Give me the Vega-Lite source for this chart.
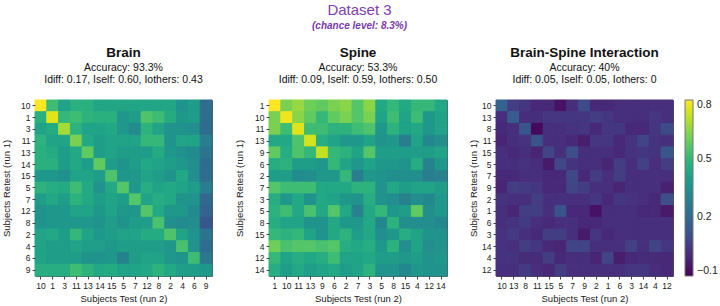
{
  "$schema": "https://vega.github.io/schema/vega-lite/v6.json",
  "background": "white",
  "padding": {"left": 1, "top": 3, "right": 2, "bottom": 0},
  "title": {
    "text": "Dataset 3",
    "subtitle": "(chance level: 8.3%)",
    "color": "#8040b0",
    "subtitleColor": "#7a3aa8",
    "fontSize": 15,
    "fontWeight": "normal",
    "font": "Liberation Sans",
    "subtitleFont": "Liberation Sans",
    "subtitleFontSize": 10,
    "subtitleFontStyle": "italic",
    "subtitleFontWeight": "bold",
    "subtitlePadding": 3,
    "anchor": "middle",
    "offset": 14
  },
  "datasets": {
    "brain": [
      {"retest": "10", "10": 0.80, "1": 0.52, "3": 0.42, "11": 0.47, "13": 0.47, "14": 0.43, "15": 0.43, "5": 0.43, "7": 0.43, "12": 0.43, "8": 0.43, "2": 0.43, "4": 0.36, "6": 0.40, "9": 0.22},
      {"retest": "1", "10": 0.47, "1": 0.76, "3": 0.50, "11": 0.52, "13": 0.48, "14": 0.47, "15": 0.47, "5": 0.38, "7": 0.40, "12": 0.55, "8": 0.52, "2": 0.45, "4": 0.38, "6": 0.40, "9": 0.22},
      {"retest": "3", "10": 0.42, "1": 0.45, "3": 0.68, "11": 0.48, "13": 0.42, "14": 0.42, "15": 0.44, "5": 0.38, "7": 0.33, "12": 0.48, "8": 0.42, "2": 0.36, "4": 0.36, "6": 0.34, "9": 0.22},
      {"retest": "11", "10": 0.48, "1": 0.42, "3": 0.42, "11": 0.62, "13": 0.44, "14": 0.40, "15": 0.42, "5": 0.42, "7": 0.42, "12": 0.50, "8": 0.50, "2": 0.36, "4": 0.42, "6": 0.42, "9": 0.28},
      {"retest": "13", "10": 0.47, "1": 0.45, "3": 0.40, "11": 0.44, "13": 0.58, "14": 0.40, "15": 0.42, "5": 0.40, "7": 0.40, "12": 0.40, "8": 0.45, "2": 0.38, "4": 0.35, "6": 0.33, "9": 0.24},
      {"retest": "14", "10": 0.47, "1": 0.47, "3": 0.40, "11": 0.44, "13": 0.40, "14": 0.58, "15": 0.40, "5": 0.36, "7": 0.40, "12": 0.44, "8": 0.42, "2": 0.40, "4": 0.38, "6": 0.34, "9": 0.22},
      {"retest": "15", "10": 0.38, "1": 0.38, "3": 0.35, "11": 0.42, "13": 0.42, "14": 0.40, "15": 0.55, "5": 0.38, "7": 0.38, "12": 0.42, "8": 0.40, "2": 0.36, "4": 0.44, "6": 0.34, "9": 0.22},
      {"retest": "5", "10": 0.48, "1": 0.46, "3": 0.45, "11": 0.52, "13": 0.44, "14": 0.36, "15": 0.44, "5": 0.56, "7": 0.38, "12": 0.46, "8": 0.42, "2": 0.44, "4": 0.42, "6": 0.40, "9": 0.28},
      {"retest": "7", "10": 0.40, "1": 0.44, "3": 0.40, "11": 0.48, "13": 0.44, "14": 0.40, "15": 0.42, "5": 0.40, "7": 0.56, "12": 0.42, "8": 0.46, "2": 0.44, "4": 0.36, "6": 0.36, "9": 0.20},
      {"retest": "12", "10": 0.36, "1": 0.38, "3": 0.38, "11": 0.42, "13": 0.42, "14": 0.38, "15": 0.42, "5": 0.38, "7": 0.38, "12": 0.56, "8": 0.44, "2": 0.38, "4": 0.38, "6": 0.33, "9": 0.18},
      {"retest": "8", "10": 0.36, "1": 0.38, "3": 0.38, "11": 0.38, "13": 0.38, "14": 0.36, "15": 0.40, "5": 0.36, "7": 0.40, "12": 0.40, "8": 0.54, "2": 0.34, "4": 0.33, "6": 0.34, "9": 0.14},
      {"retest": "2", "10": 0.42, "1": 0.44, "3": 0.40, "11": 0.50, "13": 0.42, "14": 0.38, "15": 0.40, "5": 0.42, "7": 0.42, "12": 0.45, "8": 0.45, "2": 0.55, "4": 0.42, "6": 0.36, "9": 0.24},
      {"retest": "4", "10": 0.42, "1": 0.40, "3": 0.40, "11": 0.42, "13": 0.40, "14": 0.40, "15": 0.38, "5": 0.40, "7": 0.40, "12": 0.40, "8": 0.40, "2": 0.38, "4": 0.54, "6": 0.36, "9": 0.22},
      {"retest": "6", "10": 0.42, "1": 0.40, "3": 0.40, "11": 0.40, "13": 0.36, "14": 0.36, "15": 0.38, "5": 0.30, "7": 0.40, "12": 0.42, "8": 0.42, "2": 0.38, "4": 0.36, "6": 0.52, "9": 0.26},
      {"retest": "9", "10": 0.46, "1": 0.46, "3": 0.46, "11": 0.52, "13": 0.48, "14": 0.44, "15": 0.45, "5": 0.42, "7": 0.42, "12": 0.44, "8": 0.48, "2": 0.44, "4": 0.40, "6": 0.40, "9": 0.38}
    ],
    "spine": [
      {"retest": "1", "1": 0.80, "10": 0.62, "11": 0.66, "13": 0.60, "9": 0.58, "6": 0.62, "2": 0.64, "7": 0.56, "3": 0.64, "5": 0.44, "8": 0.50, "15": 0.44, "4": 0.50, "12": 0.50, "14": 0.44},
      {"retest": "10", "1": 0.62, "10": 0.78, "11": 0.64, "13": 0.58, "9": 0.50, "6": 0.58, "2": 0.62, "7": 0.56, "3": 0.62, "5": 0.42, "8": 0.52, "15": 0.42, "4": 0.52, "12": 0.38, "14": 0.42},
      {"retest": "11", "1": 0.62, "10": 0.52, "11": 0.76, "13": 0.52, "9": 0.52, "6": 0.48, "2": 0.48, "7": 0.52, "3": 0.55, "5": 0.38, "8": 0.48, "15": 0.42, "4": 0.44, "12": 0.38, "14": 0.42},
      {"retest": "13", "1": 0.44, "10": 0.44, "11": 0.55, "13": 0.74, "9": 0.46, "6": 0.42, "2": 0.38, "7": 0.38, "3": 0.42, "5": 0.36, "8": 0.38, "15": 0.28, "4": 0.42, "12": 0.32, "14": 0.34},
      {"retest": "9", "1": 0.58, "10": 0.46, "11": 0.55, "13": 0.50, "9": 0.72, "6": 0.50, "2": 0.48, "7": 0.42, "3": 0.56, "5": 0.40, "8": 0.40, "15": 0.40, "4": 0.40, "12": 0.40, "14": 0.42},
      {"retest": "6", "1": 0.46, "10": 0.48, "11": 0.40, "13": 0.40, "9": 0.38, "6": 0.50, "2": 0.42, "7": 0.38, "3": 0.42, "5": 0.38, "8": 0.38, "15": 0.36, "4": 0.46, "12": 0.30, "14": 0.38},
      {"retest": "2", "1": 0.40, "10": 0.40, "11": 0.33, "13": 0.34, "9": 0.38, "6": 0.38, "2": 0.50, "7": 0.28, "3": 0.38, "5": 0.36, "8": 0.34, "15": 0.34, "4": 0.34, "12": 0.28, "14": 0.30},
      {"retest": "7", "1": 0.56, "10": 0.52, "11": 0.52, "13": 0.52, "9": 0.44, "6": 0.44, "2": 0.44, "7": 0.48, "3": 0.48, "5": 0.36, "8": 0.44, "15": 0.40, "4": 0.42, "12": 0.42, "14": 0.40},
      {"retest": "3", "1": 0.46, "10": 0.38, "11": 0.44, "13": 0.36, "9": 0.44, "6": 0.42, "2": 0.38, "7": 0.36, "3": 0.46, "5": 0.36, "8": 0.34, "15": 0.30, "4": 0.34, "12": 0.32, "14": 0.38},
      {"retest": "5", "1": 0.48, "10": 0.52, "11": 0.44, "13": 0.54, "9": 0.44, "6": 0.56, "2": 0.44, "7": 0.30, "3": 0.44, "5": 0.50, "8": 0.38, "15": 0.40, "4": 0.58, "12": 0.34, "14": 0.38},
      {"retest": "8", "1": 0.46, "10": 0.42, "11": 0.42, "13": 0.36, "9": 0.36, "6": 0.44, "2": 0.38, "7": 0.38, "3": 0.44, "5": 0.32, "8": 0.48, "15": 0.34, "4": 0.34, "12": 0.34, "14": 0.32},
      {"retest": "15", "1": 0.50, "10": 0.48, "11": 0.50, "13": 0.42, "9": 0.36, "6": 0.44, "2": 0.48, "7": 0.40, "3": 0.44, "5": 0.34, "8": 0.38, "15": 0.46, "4": 0.42, "12": 0.36, "14": 0.36},
      {"retest": "4", "1": 0.60, "10": 0.54, "11": 0.56, "13": 0.56, "9": 0.54, "6": 0.56, "2": 0.46, "7": 0.44, "3": 0.46, "5": 0.38, "8": 0.48, "15": 0.34, "4": 0.42, "12": 0.34, "14": 0.36},
      {"retest": "12", "1": 0.50, "10": 0.42, "11": 0.46, "13": 0.44, "9": 0.46, "6": 0.52, "2": 0.42, "7": 0.42, "3": 0.44, "5": 0.40, "8": 0.40, "15": 0.38, "4": 0.40, "12": 0.36, "14": 0.38},
      {"retest": "14", "1": 0.46, "10": 0.40, "11": 0.44, "13": 0.40, "9": 0.42, "6": 0.44, "2": 0.40, "7": 0.42, "3": 0.48, "5": 0.36, "8": 0.36, "15": 0.32, "4": 0.38, "12": 0.36, "14": 0.36}
    ],
    "inter": [
      {"retest": "10", "10": 0.18, "13": 0.06, "8": 0.04, "11": 0.00, "15": 0.00, "5": -0.06, "7": 0.02, "9": 0.10, "2": 0.00, "1": 0.00, "6": 0.02, "3": 0.02, "14": 0.02, "4": 0.02, "12": 0.02},
      {"retest": "13", "10": 0.02, "13": 0.16, "8": 0.02, "11": 0.02, "15": 0.04, "5": 0.04, "7": 0.04, "9": 0.04, "2": 0.06, "1": 0.04, "6": 0.02, "3": 0.02, "14": 0.02, "4": 0.04, "12": 0.02},
      {"retest": "8", "10": 0.00, "13": 0.02, "8": 0.14, "11": -0.08, "15": 0.02, "5": 0.02, "7": 0.03, "9": 0.04, "2": 0.00, "1": 0.04, "6": 0.04, "3": 0.00, "14": 0.00, "4": 0.04, "12": 0.10},
      {"retest": "11", "10": -0.01, "13": 0.02, "8": 0.03, "11": 0.13, "15": 0.02, "5": 0.02, "7": 0.00, "9": -0.03, "2": 0.04, "1": 0.04, "6": 0.00, "3": 0.03, "14": 0.08, "4": 0.03, "12": 0.02},
      {"retest": "15", "10": 0.02, "13": 0.00, "8": 0.02, "11": -0.01, "15": 0.08, "5": 0.02, "7": 0.11, "9": 0.02, "2": 0.02, "1": 0.02, "6": 0.00, "3": 0.03, "14": 0.04, "4": 0.03, "12": 0.14},
      {"retest": "5", "10": 0.02, "13": 0.02, "8": 0.03, "11": 0.02, "15": -0.04, "5": 0.09, "7": 0.03, "9": 0.02, "2": 0.02, "1": -0.01, "6": 0.06, "3": 0.02, "14": 0.07, "4": 0.02, "12": 0.06},
      {"retest": "7", "10": 0.00, "13": 0.00, "8": 0.02, "11": 0.02, "15": 0.00, "5": 0.00, "7": 0.09, "9": 0.00, "2": 0.06, "1": 0.02, "6": 0.06, "3": 0.02, "14": 0.02, "4": 0.02, "12": 0.02},
      {"retest": "9", "10": -0.01, "13": 0.06, "8": 0.05, "11": 0.04, "15": 0.00, "5": 0.00, "7": 0.08, "9": 0.06, "2": 0.02, "1": 0.02, "6": -0.01, "3": 0.02, "14": 0.02, "4": 0.02, "12": -0.02},
      {"retest": "2", "10": 0.03, "13": 0.02, "8": 0.02, "11": 0.06, "15": 0.02, "5": 0.02, "7": 0.02, "9": 0.02, "2": 0.04, "1": 0.00, "6": 0.04, "3": 0.03, "14": 0.02, "4": 0.00, "12": 0.11},
      {"retest": "1", "10": 0.02, "13": -0.01, "8": 0.06, "11": 0.06, "15": 0.02, "5": 0.13, "7": 0.00, "9": 0.00, "2": -0.06, "1": 0.02, "6": 0.02, "3": 0.02, "14": 0.00, "4": 0.00, "12": -0.04},
      {"retest": "6", "10": 0.02, "13": 0.03, "8": 0.05, "11": 0.02, "15": 0.00, "5": 0.02, "7": 0.02, "9": 0.00, "2": 0.00, "1": 0.02, "6": 0.02, "3": 0.02, "14": 0.02, "4": 0.02, "12": 0.02},
      {"retest": "3", "10": 0.03, "13": 0.05, "8": 0.02, "11": 0.00, "15": 0.06, "5": 0.06, "7": 0.02, "9": -0.04, "2": 0.04, "1": 0.00, "6": 0.02, "3": 0.02, "14": 0.02, "4": 0.02, "12": 0.02},
      {"retest": "14", "10": 0.03, "13": 0.02, "8": 0.06, "11": 0.04, "15": 0.00, "5": -0.01, "7": 0.08, "9": 0.08, "2": 0.02, "1": 0.02, "6": 0.02, "3": 0.07, "14": 0.02, "4": 0.08, "12": 0.04},
      {"retest": "4", "10": 0.03, "13": 0.03, "8": 0.01, "11": 0.01, "15": 0.06, "5": 0.00, "7": 0.02, "9": 0.02, "2": -0.01, "1": 0.08, "6": -0.03, "3": 0.00, "14": 0.01, "4": 0.01, "12": 0.00},
      {"retest": "12", "10": 0.02, "13": 0.02, "8": 0.05, "11": 0.02, "15": 0.00, "5": 0.06, "7": 0.02, "9": 0.02, "2": 0.02, "1": 0.02, "6": 0.02, "3": 0.04, "14": 0.04, "4": 0.02, "12": 0.00}
    ]
  },
  "hconcat": [
    {
      "width": 177, "height": 176,
      "title": {"text": "Brain", "subtitle": ["Accuracy: 93.3%", "Idiff: 0.17, Iself: 0.60, Iothers: 0.43"]},
      "data": {"name": "brain"},
      "transform": [{"fold": ["10","1","3","11","13","14","15","5","7","12","8","2","4","6","9"], "as": ["test", "value"]}],
      "mark": {"type": "rect", "strokeWidth": 1, "stroke": {"expr": "scale('color', datum.value)"}},
      "encoding": {
        "x": {"field": "test", "type": "ordinal", "sort": ["10","1","3","11","13","14","15","5","7","12","8","2","4","6","9"], "axis": {"title": "Subjects Test (run 2)"}},
        "y": {"field": "retest", "type": "ordinal", "sort": ["10","1","3","11","13","14","15","5","7","12","8","2","4","6","9"], "axis": {"title": "Subjects Retest (run 1)", "titlePadding": 9}},
        "color": {"field": "value", "type": "quantitative", "scale": {"scheme": "viridis", "domain": [-0.1, 0.8]}}
      }
    },
    {
      "width": 178, "height": 176,
      "title": {"text": "Spine", "subtitle": ["Accuracy: 53.3%", "Idiff: 0.09, Iself: 0.59, Iothers: 0.50"]},
      "data": {"name": "spine"},
      "transform": [{"fold": ["1","10","11","13","9","6","2","7","3","5","8","15","4","12","14"], "as": ["test", "value"]}],
      "mark": {"type": "rect", "strokeWidth": 1, "stroke": {"expr": "scale('color', datum.value)"}},
      "encoding": {
        "x": {"field": "test", "type": "ordinal", "sort": ["1","10","11","13","9","6","2","7","3","5","8","15","4","12","14"], "axis": {"title": "Subjects Test (run 2)"}},
        "y": {"field": "retest", "type": "ordinal", "sort": ["1","10","11","13","9","6","2","7","3","5","8","15","4","12","14"], "axis": {"title": "Subjects Retest (run 1)", "titlePadding": 10}},
        "color": {"field": "value", "type": "quantitative", "scale": {"scheme": "viridis", "domain": [-0.1, 0.8]}}
      }
    },
    {
      "width": 177, "height": 176,
      "title": {"text": "Brain-Spine Interaction", "subtitle": ["Accuracy: 40%", "Idiff: 0.05, Iself: 0.05, Iothers: 0"]},
      "data": {"name": "inter"},
      "transform": [{"fold": ["10","13","8","11","15","5","7","9","2","1","6","3","14","4","12"], "as": ["test", "value"]}],
      "mark": {"type": "rect", "strokeWidth": 1, "stroke": {"expr": "scale('color', datum.value)"}},
      "encoding": {
        "x": {"field": "test", "type": "ordinal", "sort": ["10","13","8","11","15","5","7","9","2","1","6","3","14","4","12"], "axis": {"title": "Subjects Test (run 2)"}},
        "y": {"field": "retest", "type": "ordinal", "sort": ["10","13","8","11","15","5","7","9","2","1","6","3","14","4","12"], "axis": {"title": "Subjects Retest (run 1)", "titlePadding": 3}},
        "color": {
          "field": "value", "type": "quantitative",
          "scale": {"scheme": "viridis", "domain": [-0.1, 0.8]},
          "legend": {
            "title": null,
            "values": [-0.1, 0.2, 0.5, 0.8],
            "format": ".1f",
            "gradientLength": 176,
            "gradientThickness": 8,
            "gradientStrokeColor": "#777",
            "gradientStrokeWidth": 1,
            "labelFontSize": 10.5,
            "labelColor": "#222",
            "labelFont": "Liberation Sans",
            "labelOffset": 4,
            "offset": 11
          }
        }
      }
    }
  ],
  "spacing": 20,
  "resolve": {"scale": {"x": "independent", "y": "independent", "color": "shared"}},
  "config": {
    "view": {"stroke": "#555", "strokeWidth": 1},
    "title": {
      "font": "Liberation Sans",
      "fontSize": 13.5,
      "fontWeight": "bold",
      "color": "#111",
      "subtitleFont": "Liberation Sans",
      "subtitleFontSize": 10.5,
      "subtitleColor": "#111",
      "subtitlePadding": 4,
      "subtitleLineHeight": 12,
      "anchor": "middle",
      "offset": 14
    },
    "axis": {
      "domain": false,
      "grid": false,
      "labelFont": "Liberation Sans",
      "labelFontSize": 8.5,
      "labelColor": "#222",
      "labelAngle": 0,
      "labelPadding": 2,
      "tickColor": "#444",
      "tickSize": 3,
      "titleFont": "Liberation Sans",
      "titleFontSize": 9.5,
      "titleFontWeight": "normal",
      "titleColor": "#222",
      "titlePadding": 4
    }
  }
}
